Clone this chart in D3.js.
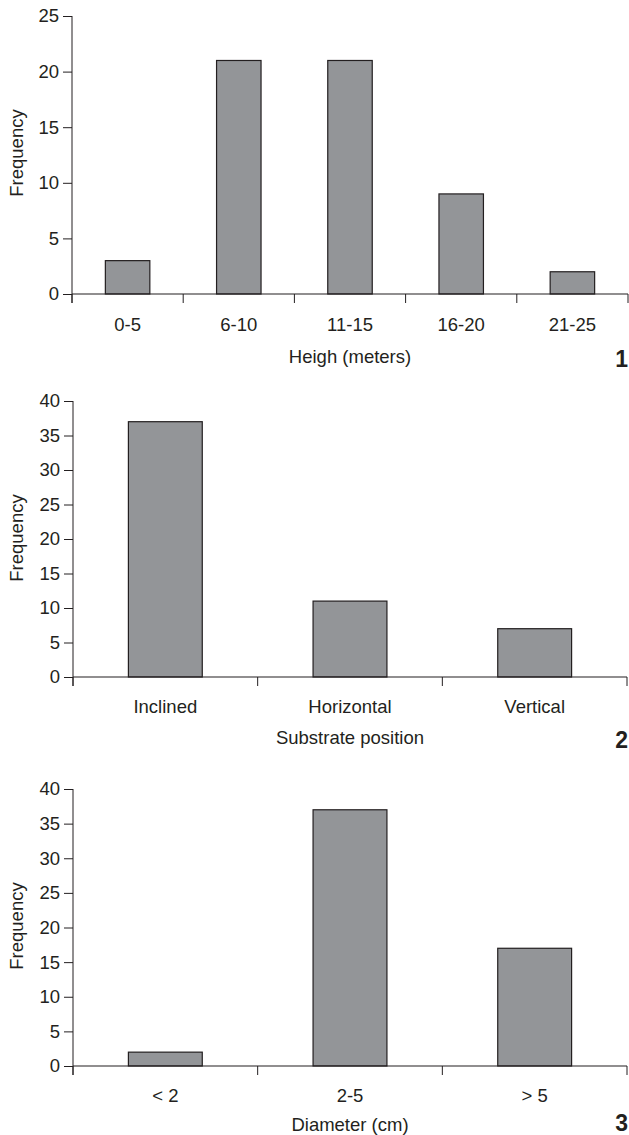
<!DOCTYPE html>
<html><head><meta charset="utf-8">
<script src="https://cdn.jsdelivr.net/npm/d3@7"></script>
<style>body{margin:0;background:#fff}svg{display:block}text{font-family:"Liberation Sans",Arial,sans-serif;fill:#231f20}</style>
</head><body><svg id="c" width="629" height="1135"></svg>
<script>
const heightCats = ["0-5","6-10","11-15","16-20","21-25"];
const heightVals = [3,21,21,9,2];
const heightTicks = [0,5,10,15,20,25];
const substrateCats = ["Inclined","Horizontal","Vertical"];
const substrateVals = [37,11,7];
const substrateTicks = [0,5,10,15,20,25,30,35,40];
const diameterCats = ["< 2","2-5","> 5"];
const diameterVals = [2,37,17];
const diameterTicks = [0,5,10,15,20,25,30,35,40];

const svg = d3.select("#c");
const FS = 18.5;
const panels = [
 {cats:heightCats, vals:heightVals, ticks:heightTicks, max:25, title:"Heigh (meters)", num:"1",
  x0:72, x1:628, yTop:16, yBot:294, labY:331, titY:363, numY:367, freqY:153},
 {cats:substrateCats, vals:substrateVals, ticks:substrateTicks, max:40, title:"Substrate position", num:"2",
  x0:73, x1:627, yTop:401, yBot:677, labY:713, titY:744, numY:748, freqY:538},
 {cats:diameterCats, vals:diameterVals, ticks:diameterTicks, max:40, title:"Diameter (cm)", num:"3",
  x0:73, x1:627, yTop:789, yBot:1066, labY:1102, titY:1131, numY:1131, freqY:926}
];
const col = "#231f20";
panels.forEach(p => {
  const g = svg.append("g");
  const x = d3.scaleBand().domain(p.cats).range([p.x0,p.x1]).paddingInner(0.6).paddingOuter(0.3);
  const y = d3.scaleLinear().domain([0,p.max]).range([p.yBot,p.yTop]);
  g.selectAll("rect").data(p.cats).enter().append("rect")
    .attr("x", d=>x(d)).attr("width", x.bandwidth())
    .attr("y", (d,i)=>y(p.vals[i])).attr("height", (d,i)=>y(0)-y(p.vals[i]))
    .attr("fill","#939598").attr("stroke",col).attr("stroke-width",1.2);
  const ya = d3.axisLeft(y).tickValues(p.ticks).tickSize(9).tickPadding(4);
  const yg = g.append("g").attr("transform",`translate(${p.x0},0)`).call(ya);
  yg.select(".domain").remove();
  yg.selectAll(".tick line").attr("stroke",col).attr("stroke-width",1);
  yg.selectAll(".tick text").attr("font-size",FS).attr("fill",col).style("font-family","Liberation Sans, Arial, sans-serif");
  g.append("line").attr("x1",p.x0).attr("x2",p.x0).attr("y1",p.yTop).attr("y2",p.yBot+9).attr("stroke",col).attr("stroke-width",1);
  g.append("line").attr("x1",p.x0).attr("x2",p.x1).attr("y1",p.yBot).attr("y2",p.yBot).attr("stroke",col).attr("stroke-width",1.2);
  const step = x.step();
  const bounds = d3.range(p.cats.length+1).map(i => p.x0 + i*step);
  g.selectAll(".bt").data(bounds).enter().append("line")
    .attr("x1",d=>d).attr("x2",d=>d).attr("y1",p.yBot).attr("y2",p.yBot+9).attr("stroke",col).attr("stroke-width",1);
  g.selectAll(".cl").data(p.cats).enter().append("text")
    .attr("x", d=>x(d)+x.bandwidth()/2).attr("y", p.labY).attr("text-anchor","middle")
    .attr("font-size",FS).text(d=>d);
  g.append("text").attr("x",(p.x0+p.x1)/2).attr("y",p.titY).attr("text-anchor","middle").attr("font-size",FS).text(p.title);
  g.append("text").attr("x",628).attr("y",p.numY).attr("text-anchor","end").attr("font-size",23).attr("font-weight","bold").text(p.num);
  g.append("text").attr("transform",`translate(23,${p.freqY}) rotate(-90)`).attr("text-anchor","middle").attr("font-size",FS).text("Frequency");
});
</script></body></html>
